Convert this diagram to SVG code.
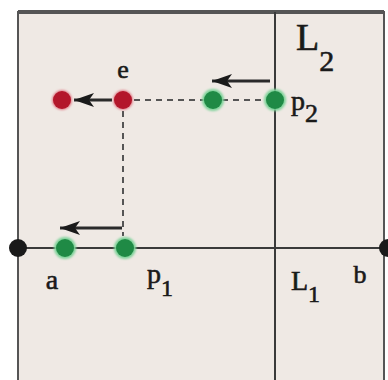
<svg xmlns="http://www.w3.org/2000/svg" width="388" height="380" viewBox="0 0 388 380">
<defs>
<marker id="ah" viewBox="0 0 20 14" refX="20" refY="7" markerWidth="20" markerHeight="14" orient="auto" markerUnits="userSpaceOnUse">
<path d="M20,7 L0,0 L5,7 L0,14 Z" fill="#1a1a1a"/>
</marker>
<filter id="glow" x="-50%" y="-50%" width="200%" height="200%"><feGaussianBlur stdDeviation="1.2"/></filter>
</defs>
<style>
.frame{fill:#efe9e4;stroke:#555;stroke-width:2}
.ln{stroke:#3a3a3a;stroke-width:2;fill:none}
.dash{stroke:#555;stroke-width:2;stroke-dasharray:6 5;fill:none}
.arr{stroke:#2a2a2a;stroke-width:3;fill:none}
.g{fill:#1f8a45}
.r{fill:#b3172b}
.k{fill:#1a1a1a}
.t{font-family:"Liberation Serif",serif;fill:#1a1a1a;stroke:#1a1a1a;stroke-width:0.6}
</style>
<rect x="0" y="0" width="388" height="380" fill="#ffffff"/>
<rect class="frame" x="18" y="12" width="366" height="380"/>
<line x1="18" y1="12" x2="384" y2="12" stroke="#555" stroke-width="4"/>
<g id="connectors">
<line class="ln" x1="275" y1="12" x2="275" y2="380"/>
<line class="ln" x1="18" y1="248" x2="388" y2="248"/>
<line class="dash" x1="123" y1="100" x2="275" y2="100"/>
<line class="dash" x1="123" y1="100" x2="123" y2="236"/>
<line class="arr" x1="112" y1="100" x2="74" y2="100" marker-end="url(#ah)"/>
<line class="arr" x1="270" y1="81" x2="212" y2="81" marker-end="url(#ah)"/>
<line class="arr" x1="122" y1="228" x2="60" y2="228" marker-end="url(#ah)"/>
</g>
<g id="node-left-end"><circle class="k" cx="18" cy="248" r="9"/></g>
<g id="node-right-end"><circle class="k" cx="388" cy="248" r="9"/></g>
<g id="node-a"><circle cx="65" cy="248" r="11" fill="#7fd39a" filter="url(#glow)"/><circle class="g" cx="65" cy="248" r="9"/><text class="t" x="52" y="289" font-size="28" text-anchor="middle">a</text></g>
<g id="node-p1"><circle cx="125" cy="248" r="11" fill="#7fd39a" filter="url(#glow)"/><circle class="g" cx="125" cy="248" r="9"/><text class="t" x="147" y="283" font-size="28">p<tspan font-size="24" dy="13">1</tspan></text></g>
<g id="node-e"><circle cx="123" cy="100" r="10" fill="#e07a86" filter="url(#glow)"/><circle class="r" cx="123" cy="100" r="9"/><text class="t" x="123" y="78" font-size="26" text-anchor="middle">e</text></g>
<g id="node-e-left"><circle cx="62" cy="100" r="10" fill="#e07a86" filter="url(#glow)"/><circle class="r" cx="62" cy="100" r="9"/></g>
<g id="node-mid"><circle cx="213" cy="100" r="11" fill="#7fd39a" filter="url(#glow)"/><circle class="g" cx="213" cy="100" r="9"/></g>
<g id="node-p2"><circle cx="275" cy="100" r="11" fill="#7fd39a" filter="url(#glow)"/><circle class="g" cx="275" cy="100" r="9"/><text class="t" x="291" y="110" font-size="28">p<tspan font-size="26" dy="12">2</tspan></text></g>
<g id="label-L2"><text class="t" x="296" y="50" font-size="38">L<tspan font-size="30" dy="21">2</tspan></text></g>
<g id="label-L1"><text class="t" x="291" y="290" font-size="28">L<tspan font-size="24" dy="12">1</tspan></text></g>
<g id="label-b"><text class="t" x="360" y="283" font-size="26" text-anchor="middle">b</text></g>
</svg>
